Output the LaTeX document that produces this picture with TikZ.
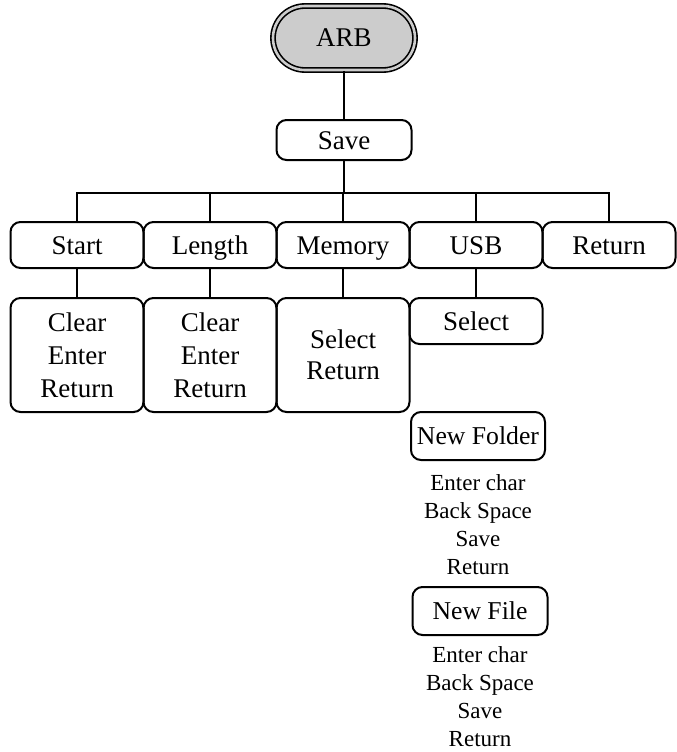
\documentclass[tikz,border=0pt]{standalone}
\usepackage{fontspec}
\setmainfont{Liberation Serif}
\begin{document}
\begin{tikzpicture}[x=1pt,y=-1pt,
  box/.style={draw,line width=2pt,rounded corners=10pt,inner sep=0pt,
     font=\fontsize{27}{33}\selectfont,align=center},
  onebox/.style={box,text height=18pt,text depth=0pt},
  topbox/.style={onebox,minimum width=133pt,minimum height=46pt},
  subbox/.style={box,minimum width=133pt,minimum height=114pt},
  midbox/.style={box,font=\fontsize{25.7}{30}\selectfont,text height=17pt,text depth=0pt},
  txt/.style={inner sep=0pt,align=center,font=\fontsize{23}{28}\selectfont},
  conn/.style={line width=2pt}]
\useasboundingbox (0,0) rectangle (677,752);
% root
\node[draw,line width=1.6pt,double=gray!40,double distance=2.6pt,fill=gray!40,
      rounded corners=32pt,minimum width=142pt,minimum height=64pt,inner sep=0pt,
      text height=18pt,text depth=0pt,
      font=\fontsize{27}{33}\selectfont] (arb) at (344,38) {ARB};
\node[onebox,minimum width=135pt,minimum height=40pt] (save) at (344,140) {Save};
\coordinate (bar) at (344,193);
% top row
\node[topbox] (start) at (77,245) {Start};
\node[topbox] (length) at (210,245) {Length};
\node[topbox] (memory) at (343,245) {Memory};
\node[topbox] (usb) at (476,245) {USB};
\node[topbox] (ret) at (609,245) {Return};
% second row
\node[subbox] (startsub) at (77,355) {Clear\\Enter\\Return};
\node[subbox] (lengthsub) at (210,355) {Clear\\Enter\\Return};
\node[subbox,font=\fontsize{27}{31}\selectfont] (memsub) at (343,355) {Select\\Return};
\node[onebox,minimum width=133pt,minimum height=46pt] (select) at (476,321) {Select};
% USB further
\node[midbox,minimum width=134pt,minimum height=48pt] (folder) at (478,436) {New Folder};
\node[txt] (foldertxt) at (478,525) {Enter char\\Back Space\\Save\\Return};
\node[midbox,minimum width=135pt,minimum height=48pt] (file) at (480,611) {New File};
\node[txt] (filetxt) at (480,697) {Enter char\\Back Space\\Save\\Return};
% connectors
\draw[conn] (arb.south) -- (save.north);
\draw[conn] (save.south) -- (bar);
\draw[conn] (start.north) |- (bar) -| (ret.north);
\draw[conn] (length.north) -- (length.north |- bar);
\draw[conn] (memory.north) -- (memory.north |- bar);
\draw[conn] (usb.north) -- (usb.north |- bar);
\draw[conn] (start.south) -- (startsub.north);
\draw[conn] (length.south) -- (lengthsub.north);
\draw[conn] (memory.south) -- (memsub.north);
\draw[conn] (usb.south) -- (select.north);
\end{tikzpicture}
\end{document}
